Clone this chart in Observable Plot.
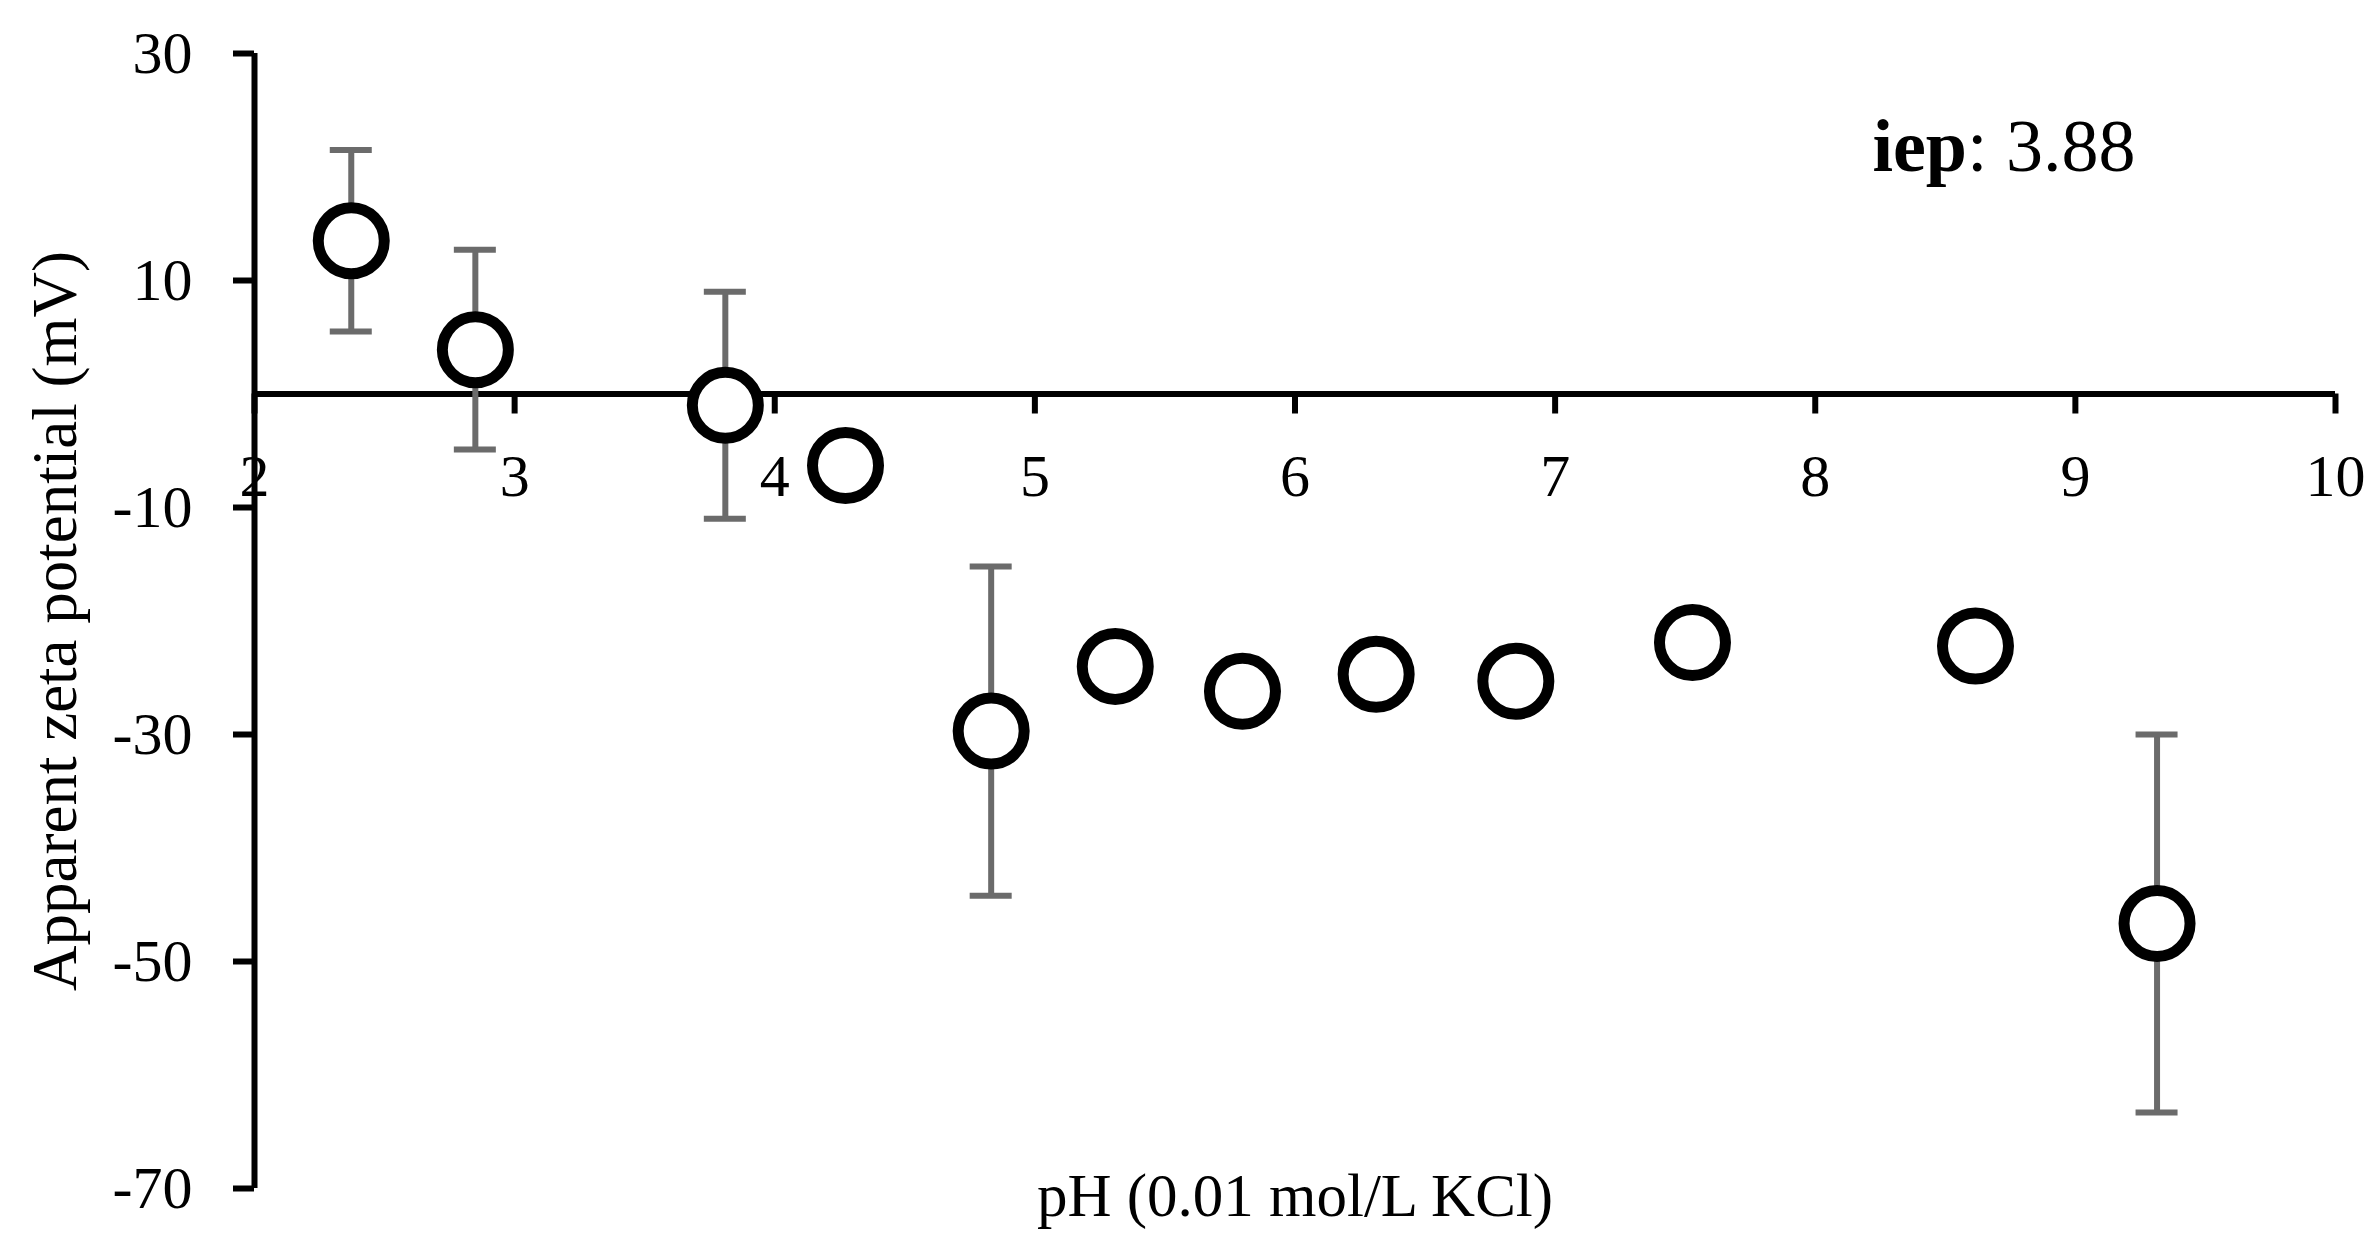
<!DOCTYPE html>
<html>
<head>
<meta charset="utf-8">
<script src="https://cdn.jsdelivr.net/npm/d3@7"></script>
<script src="https://cdn.jsdelivr.net/npm/@observablehq/plot@0.6"></script>
<style>
  html, body { margin: 0; padding: 0; background: #fff; }
</style>
</head>
<body>
<div id="chart"></div>
<script>
// ---- data ----
const ph   = [2.372, 2.849, 3.810, 4.272, 4.832, 5.309, 5.798, 6.312, 6.849, 7.528, 8.616, 9.314];
const zeta = [13.5, 3.9, -1.0, -6.3, -29.7, -24.0, -26.2, -24.7, -25.3, -21.9, -22.2, -46.65];
const err  = [8.0, 8.8, 10.0, null, 14.5, null, null, null, null, null, null, 16.65];
const xTicks = [2, 3, 4, 5, 6, 7, 8, 9, 10];
const yTicks = [30, 10, -10, -30, -50, -70];
const xTitle = "pH (0.01 mol/L KCl)";
const yTitle = "Apparent zeta potential (mV)";
const iepLabel = "iep";
const iepValue = ": 3.88";

const points = ph.map((x, i) => ({x, y: zeta[i], e: err[i]}));
const bars = points.filter(d => d.e != null);
const caps = bars.flatMap(d => [{x: d.x, y: d.y - d.e}, {x: d.x, y: d.y + d.e}]);

const font = "'Liberation Serif', 'Times New Roman', serif";

const chart = Plot.plot({
  width: 2368,
  height: 1258,
  marginLeft: 254,
  marginRight: 33,
  marginTop: 53,
  marginBottom: 70,
  style: {fontFamily: font, color: "black", background: "white"},
  x: {domain: [2, 10], axis: null},
  y: {domain: [-70, 30], axis: null},
  marks: [
    // y axis
    Plot.axisY({
      ticks: yTicks, tickSize: 21, tickPadding: 41, strokeWidth: 6,
      fontSize: 60, tickFormat: d => String(d), label: null, stroke: "black", fill: "black"
    }),
    Plot.ruleX([2], {stroke: "black", strokeWidth: 6}),
    // x axis line at y = 0
    Plot.ruleY([0], {stroke: "black", strokeWidth: 6}),
    Plot.ruleX(xTicks, {x: d => d, y1: 0, y2: 0, insetBottom: -20, stroke: "black", strokeWidth: 6}),
    Plot.text(xTicks, {x: d => d, y: 0, text: d => String(d), dy: 83, fontSize: 60, fill: "black"}),
    // error bars
    Plot.ruleX(bars, {x: "x", y1: d => d.y - d.e, y2: d => d.y + d.e, stroke: "#6b6b6b", strokeWidth: 6}),
    Plot.ruleY(caps, {y: "y", x1: "x", x2: "x", insetLeft: -21, insetRight: -21, stroke: "#6b6b6b", strokeWidth: 6}),
    // points
    Plot.dot(points, {x: "x", y: "y", r: 33, fill: "white", stroke: "black", strokeWidth: 11}),
    // titles
    Plot.text([yTitle], {text: d => d, frameAnchor: "left", textAnchor: "middle", lineAnchor: "middle",
      rotate: -90, dx: -199, fontSize: 63, fill: "black"}),
    Plot.text([xTitle], {text: d => d, frameAnchor: "bottom", textAnchor: "middle", lineAnchor: "middle",
      dy: 8, fontSize: 61, fill: "black"}),
    // annotation
    Plot.text([iepLabel + iepValue], {text: d => d, frameAnchor: "top-right", textAnchor: "end", lineAnchor: "middle",
      dx: -200, dy: 94, fontSize: 74, fill: "black"})
  ]
});

document.getElementById("chart").appendChild(chart);

// make "iep" bold within the annotation
const ns = "http://www.w3.org/2000/svg";
for (const t of chart.querySelectorAll("text")) {
  if (t.textContent === iepLabel + iepValue) {
    while (t.firstChild) t.removeChild(t.firstChild);
    const b = document.createElementNS(ns, "tspan");
    b.setAttribute("font-weight", "bold");
    b.textContent = iepLabel;
    const r = document.createElementNS(ns, "tspan");
    r.textContent = iepValue;
    t.appendChild(b);
    t.appendChild(r);
  }
}
</script>
</body>
</html>
